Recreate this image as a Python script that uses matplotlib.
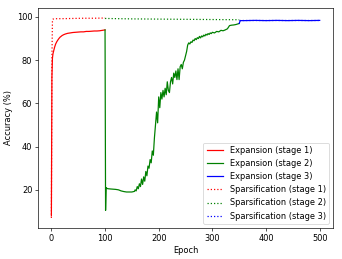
import matplotlib.pyplot as plt

# stage 1
exp1_epochs = [0, 1, 2, 3, 4, 5, 6, 8, 10, 12, 14, 16, 18, 20, 23, 26, 30, 35, 40,
               45, 50, 55, 60, 65, 70, 75, 80, 85, 90, 95, 100]
exp1_acc = [8.0, 72.0, 81.0, 83.0, 84.0, 85.0, 86.0, 87.5, 88.5, 89.3, 90.0, 90.6,
            91.0, 91.4, 91.8, 92.1, 92.4, 92.6, 92.8, 92.9, 93.0, 93.1, 93.1, 93.3,
            93.3, 93.4, 93.5, 93.5, 93.6, 93.8, 94.0]
sp1_epochs = [0, 1, 2, 3, 5, 10, 20, 40, 60, 80, 100]
sp1_acc = [7.0, 80.0, 98.6, 99.0, 99.1, 99.2, 99.2, 99.3, 99.4, 99.4, 99.5]

# stage 2
exp2_epochs = [100, 101, 102, 104, 106, 110, 115, 120, 125, 130, 135, 140, 145, 150, 155,
               156, 158, 160, 162, 164, 166, 168, 170, 172, 174, 176, 178, 180, 182, 184,
               186, 188, 190, 192, 194, 196, 198, 200, 202, 204, 206, 208, 210, 212, 214,
               216, 218, 220, 222, 224, 226, 228, 230, 232, 234, 236, 238, 240, 242, 244,
               246, 248, 250, 252, 254, 256, 258, 260, 262, 264, 266, 268, 270, 272, 274,
               276, 278, 280, 282, 284, 286, 288, 290, 292, 294, 296, 298, 300, 304, 308,
               312, 316, 320, 324, 328, 332, 336, 340, 344, 348, 350]
exp2_acc = [94.0, 10.5, 21.0, 20.6, 20.5, 20.4, 20.3, 20.2, 20.0, 19.5, 19.2, 19.0, 19.0, 19.0, 19.3,
            20.0, 19.5, 21.5, 20.5, 22.8, 21.5, 25.0, 22.5, 26.0, 24.0, 28.5, 26.5, 31.0, 30.0, 34.0,
            32.5, 38.0, 36.0, 44.0, 50.0, 56.0, 51.0, 63.0, 58.0, 65.0, 62.0, 66.0, 63.0, 67.0, 64.0,
            70.0, 66.0, 65.0, 70.0, 72.0, 69.0, 74.0, 72.0, 75.0, 71.0, 76.0, 71.0, 77.0, 78.0, 76.0,
            79.0, 80.0, 82.0, 84.0, 87.0, 88.0, 87.5, 88.5, 88.2, 89.3, 89.0, 90.0, 89.5, 90.4, 90.0,
            91.0, 90.3, 91.2, 90.8, 91.6, 91.2, 92.0, 91.6, 92.3, 91.9, 92.6, 92.3, 92.9, 92.6, 93.3,
            93.1, 93.8, 93.6, 94.0, 94.5, 96.0, 96.2, 96.3, 96.5, 96.8, 97.0]
sp2_epochs = [100, 150, 200, 250, 300, 350]
sp2_acc = [99.3, 99.1, 99.0, 98.9, 98.8, 98.7]

# stage 3
exp3_epochs = [350, 352, 360, 380, 400, 420, 440, 460, 480, 500]
exp3_acc = [97.0, 98.3, 98.3, 98.4, 98.3, 98.4, 98.3, 98.4, 98.3, 98.4]
sp3_epochs = [350, 400, 450, 500]
sp3_acc = [98.5, 98.5, 98.5, 98.5]

fig = plt.figure(figsize=(342 / 59, 259 / 59), dpi=59)
plt.subplots_adjust(left=0.111, right=0.974, top=0.969, bottom=0.12)

plt.plot(exp1_epochs, exp1_acc, color='r', label='Expansion (stage 1)')
plt.plot(exp2_epochs, exp2_acc, color='g', label='Expansion (stage 2)')
plt.plot(exp3_epochs, exp3_acc, color='b', label='Expansion (stage 3)')
plt.plot(sp1_epochs, sp1_acc, color='r', linestyle=':', label='Sparsification (stage 1)')
plt.plot(sp2_epochs, sp2_acc, color='g', linestyle=':', label='Sparsification (stage 2)')
plt.plot(sp3_epochs, sp3_acc, color='b', linestyle=':', label='Sparsification (stage 3)')

plt.xlabel('Epoch')
plt.ylabel('Accuracy (%)')
plt.legend(loc='lower right')
plt.savefig('out.png')
